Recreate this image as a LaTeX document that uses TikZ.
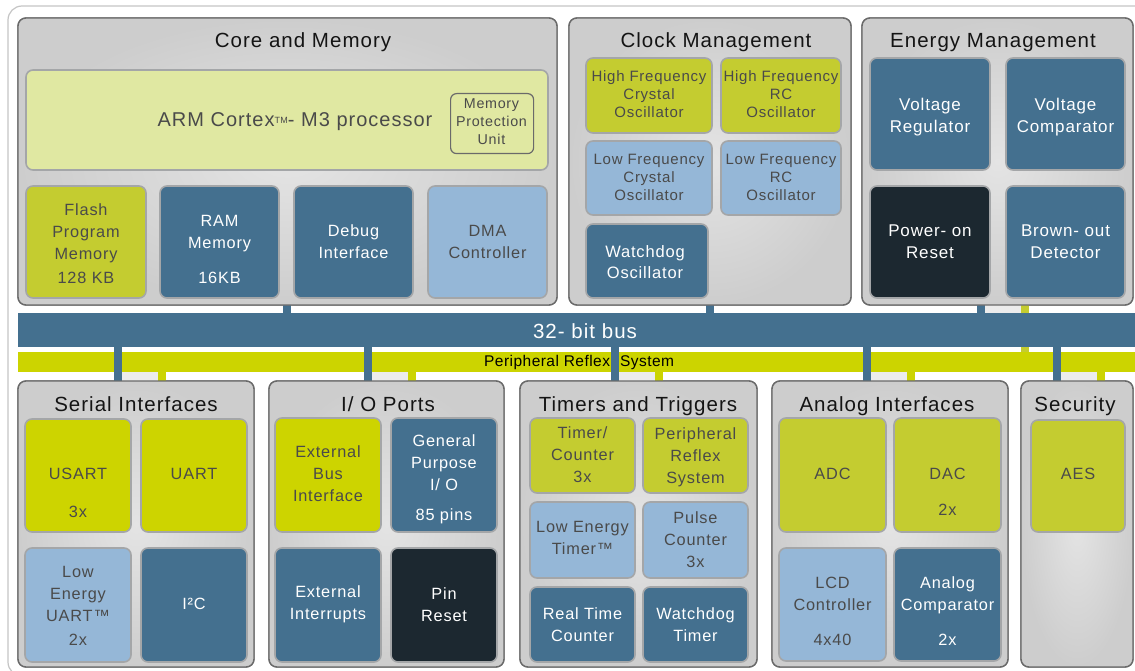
\documentclass[tikz,border=0pt]{standalone}
\usepackage{fontspec}
\setmainfont{Liberation Sans}[LetterSpace=5]
\newfontfamily\prsfont{Liberation Sans}[LetterSpace=3]
\definecolor{grpline}{HTML}{6A6A6A}
\definecolor{grpin}{HTML}{E4E4E4}
\definecolor{grpout}{HTML}{CDCDCD}
\definecolor{bxline}{HTML}{A4A6A8}
\definecolor{yelA}{HTML}{C4CC30}
\definecolor{yelB}{HTML}{CDD400}
\definecolor{dblue}{HTML}{44708F}
\definecolor{lblue}{HTML}{95B7D7}
\definecolor{darkbx}{HTML}{1C2830}
\definecolor{armfill}{HTML}{E0E8A2}
\definecolor{txtgray}{HTML}{4A4A4A}
\definecolor{ttlcol}{HTML}{141414}
\definecolor{framegray}{HTML}{C4C4C4}
\definecolor{stripgray}{HTML}{ECECEC}
\definecolor{prsyel}{HTML}{CCD400}
\newcommand\fTitle{\fontsize{20.5}{24}\selectfont}
\newcommand\fBox{\fontsize{16.3}{22}\selectfont}
\newcommand\fClk{\fontsize{15}{18}\selectfont}
\newcommand\fEn{\fontsize{17}{22}\selectfont}
\newcommand\bx[6]{\node[#2, anchor=north west, minimum width={(#5-#3)*1pt}, minimum height={(#6-#4)*1pt}] (#1) at (#3,#4) {};}
\begin{document}
\begin{tikzpicture}[x=1pt,y=-1pt,
  grp/.style={draw=grpline, line width=1.4pt, rounded corners=8pt, inner color=grpin, outer color=grpout, inner sep=0pt, outer sep=0pt},
  bxs/.style={draw=bxline, line width=1.6pt, rounded corners=7pt, inner sep=0pt, outer sep=0pt},
  ybA/.style={bxs, fill=yelA},
  ybB/.style={bxs, fill=yelB},
  dbb/.style={bxs, fill=dblue},
  lbb/.style={bxs, fill=lblue},
  dkb/.style={bxs, fill=darkbx},
  ttl/.style={font=\fTitle, text=ttlcol, inner sep=0pt, anchor=base},
  tl/.style={font=\fBox, text=txtgray, align=center, inner sep=0pt},
  tw/.style={font=\fBox, text=white, align=center, inner sep=0pt},
  bcon/.style={draw=dblue, line width=8pt},
  ycon/.style={draw=prsyel, line width=8pt},
  strip/.style={fill=stripgray, draw=none}
]
\useasboundingbox (0,0) rectangle (1135,671);
% outer frame
\draw[draw=framegray, line width=1.2pt, rounded corners=14pt] (8,6) rectangle (1160,676);

% bus and PRS bands
\node[fill=dblue, anchor=north west, minimum width=1130pt, minimum height=34pt, inner sep=0pt, outer sep=0pt] (bus) at (18,313) {};
\node[fill=prsyel, anchor=north west, minimum width=1130pt, minimum height=20pt, inner sep=0pt, outer sep=0pt] (prs) at (18,352) {};

% group boxes
\bx{core}{grp}{18}{18}{557}{305}
\bx{clock}{grp}{569}{18}{851}{305}
\bx{energy}{grp}{862}{18}{1133}{305}
\bx{serial}{grp}{18}{381}{254}{667}
\bx{io}{grp}{269}{381}{504}{667}
\bx{timers}{grp}{520}{381}{757}{667}
\bx{analog}{grp}{772}{381}{1008}{667}
\bx{security}{grp}{1021}{381}{1133}{667}

% connector x positions
\coordinate (kc) at (287,0);
\coordinate (kk) at (710,0);
\coordinate (ke) at (980.5,0);
\coordinate (key) at (1025,0);
\coordinate (s1) at (118,0);   \coordinate (s2) at (162,0);
\coordinate (i1) at (368,0);   \coordinate (i2) at (412,0);
\coordinate (t1) at (615,0);   \coordinate (t2) at (659,0);
\coordinate (a1) at (867,0);   \coordinate (a2) at (911,0);
\coordinate (e1) at (1057,0);  \coordinate (e2) at (1101,0);

% light strips between paired connectors
\fill[strip] (984,305) rectangle (1021,313);
\foreach \l/\r in {122/158, 372/408, 619/655, 871/907, 1061/1097}
  \fill[strip] (\l,372) rectangle (\r,381);

% top connectors
\draw[draw=yelA, line width=8pt] (key |- energy.south) -- (key |- prs.north);
\draw[bcon] (kc |- core.south) -- (kc |- bus.north);
\draw[bcon] (kk |- clock.south) -- (kk |- bus.north);
\draw[bcon] (ke |- energy.south) -- (ke |- bus.north);

% bus over the yellow one
\fill[dblue] (bus.north west) rectangle (bus.south east);
\node[font=\fontsize{20.5}{24}\selectfont, text=white, inner sep=0pt] (bustxt) at (585,331) {32- bit bus};

% bottom connectors
\draw[bcon] (s1 |- bus.south) -- (s1 |- serial.north);
\draw[ycon] (s2 |- prs.south) -- (s2 |- serial.north);
\draw[bcon] (i1 |- bus.south) -- (i1 |- io.north);
\draw[ycon] (i2 |- prs.south) -- (i2 |- io.north);
\draw[bcon] (t1 |- bus.south) -- (t1 |- timers.north);
\draw[ycon] (t2 |- prs.south) -- (t2 |- timers.north);
\draw[bcon] (a1 |- bus.south) -- (a1 |- analog.north);
\draw[ycon] (a2 |- prs.south) -- (a2 |- analog.north);
\draw[bcon] (e1 |- bus.south) -- (e1 |- security.north);
\draw[ycon] (e2 |- prs.south) -- (e2 |- security.north);

\node[font=\prsfont\fontsize{15.5}{20}\selectfont, text=black, inner sep=0pt, anchor=west] (prstxt) at (484,362) {Peripheral Reflex\hspace{10pt}System};

% redraw group boxes on top of connector ends
\foreach \g in {core,clock,energy,serial,io,timers,analog,security}
  \draw[grp] (\g.north west) rectangle (\g.south east);

% titles
\node[ttl] (tcore) at (303,48) {Core and Memory};
\node[ttl] (tclock) at (716,48) {Clock Management};
\node[ttl] (tenergy) at (993,48) {Energy Management};
\node[ttl] (tserial) at (136,411) {Serial Interfaces};
\node[ttl] (tio) at (388,411) {I/ O Ports};
\node[ttl] (ttimers) at (638,411) {Timers and Triggers};
\node[ttl] (tanalog) at (887,411) {Analog Interfaces};
\node[ttl] (tsec) at (1075,411) {Security};

% Core and Memory
\bx{arm}{bxs, fill=armfill}{26}{70}{548}{170}
\node[font=\fontsize{20}{24}\selectfont, text=txtgray, inner sep=0pt] (armt) at (295,122) {ARM Cortex\raisebox{0.35ex}{\fontsize{9}{9}\selectfont TM}- M3 processor};
\node[draw=grpline, line width=1.2pt, rounded corners=6pt, anchor=north west, minimum width=83pt, minimum height=60pt, inner sep=0pt] (mpu) at (450,93) {};
\node[font=\fontsize{14.3}{18}\selectfont, text=txtgray, align=center, inner sep=0pt] (mput) at (491.5,122) {Memory\\Protection\\Unit};
\bx{flash}{ybA}{26}{186}{146}{298}
\node[tl] (flasht) at (86,244) {Flash\\Program\\Memory\\[2pt]128 KB};
\bx{ram}{dbb}{160}{186}{279}{298}
\node[tw] (ramt) at (219.5,249.5) {RAM\\Memory\\[13pt]16KB};
\bx{debug}{dbb}{294}{186}{413}{298}
\node[tw] (debugt) at (353.5,242) {Debug\\Interface};
\bx{dma}{lbb}{428}{186}{547}{298}
\node[tl] (dmat) at (487.5,242) {DMA\\Controller};

% Clock Management
\bx{hfx}{ybA}{586}{58}{712}{133}
\node[tl, font=\fClk] (hfxt) at (649,94) {High Frequency\\Crystal\\Oscillator};
\bx{hfrc}{ybA}{721}{58}{841}{133}
\node[tl, font=\fClk] (hfrct) at (781,94) {High Frequency\\RC\\Oscillator};
\bx{lfx}{lbb}{586}{141}{712}{215}
\node[tl, font=\fClk] (lfxt) at (649,177) {Low Frequency\\Crystal\\Oscillator};
\bx{lfrc}{lbb}{721}{141}{841}{215}
\node[tl, font=\fClk] (lfrct) at (781,177) {Low Frequency\\RC\\Oscillator};
\bx{wdo}{dbb}{586}{224}{708}{298}
\node[tw, font=\fontsize{16.5}{21}\selectfont] (wdot) at (645,262.5) {Watchdog\\Oscillator};

% Energy Management
\bx{vreg}{dbb}{870}{58}{990}{170}
\node[tw, font=\fEn] (vregt) at (930,117) {Voltage\\Regulator};
\bx{vcmp}{dbb}{1006}{58}{1125}{170}
\node[tw, font=\fEn] (vcmpt) at (1065.5,117) {Voltage\\Comparator};
\bx{por}{dkb}{870}{186}{990}{298}
\node[tw, font=\fEn] (port) at (930,241.5) {Power- on\\Reset};
\bx{bod}{dbb}{1006}{186}{1125}{298}
\node[tw, font=\fEn] (bodt) at (1065.5,241.5) {Brown- out\\Detector};

% Serial Interfaces
\bx{usart}{ybB}{25}{419}{131}{532}
\node[tl] (usartt) at (78,493) {USART\\[16pt]3x};
\bx{uart}{ybB}{141}{419}{247}{532}
\node[tl] (uartt) at (194,474) {UART};
\bx{leuart}{lbb}{25}{548}{131}{662}
\node[tl] (leuartt) at (78,606) {Low\\Energy\\UART™\\[2pt]2x};
\bx{i2c}{dbb}{141}{548}{247}{662}
\node[tw] (i2ct) at (194,604) {I²C};

% I/O Ports
\bx{ebi}{ybB}{275}{418}{381}{532}
\node[tl] (ebit) at (328,474) {External\\Bus\\Interface};
\bx{gpio}{dbb}{391}{418}{497}{532}
\node[tw] (gpiot) at (444,479.5) {General\\Purpose\\I/ O\\[8pt]85 pins};
\bx{extint}{dbb}{275}{548}{381}{662}
\node[tw] (extintt) at (328,604.5) {External\\Interrupts};
\bx{pinrst}{dkb}{391}{548}{497}{662}
\node[tw] (pinrstt) at (444,604.5) {Pin\\Reset};

% Timers and Triggers
\bx{tc}{ybA}{530}{418}{635}{493}
\node[tl] (tct) at (582.5,454.5) {Timer/\\Counter\\3x};
\bx{prsb}{ybA}{643}{418}{748}{493}
\node[tl] (prsbt) at (695.5,457) {Peripheral\\Reflex\\System};
\bx{letim}{lbb}{530}{502}{635}{578}
\node[tl] (letimt) at (582.5,538) {Low Energy\\Timer™};
\bx{pcnt}{lbb}{643}{502}{748}{578}
\node[tl] (pcntt) at (695.5,539.5) {Pulse\\Counter\\3x};
\bx{rtc}{dbb}{530}{587}{635}{662}
\node[tw] (rtct) at (582.5,624.5) {Real Time\\Counter};
\bx{wdt}{dbb}{643}{587}{748}{662}
\node[tw] (wdtt) at (695.5,624.5) {Watchdog\\Timer};

% Analog Interfaces
\bx{adc}{ybA}{779}{418}{886}{532}
\node[tl] (adct) at (832.5,474) {ADC};
\bx{dac}{ybA}{894}{418}{1001}{532}
\node[tl] (dact) at (947.5,492) {DAC\\[14pt]2x};
\bx{lcd}{lbb}{779}{548}{886}{661}
\node[tl] (lcdt) at (832.5,611.5) {LCD\\Controller\\[13pt]4x40};
\bx{acmp}{dbb}{894}{548}{1001}{661}
\node[tw] (acmpt) at (947.5,611.5) {Analog\\Comparator\\[13pt]2x};

% Security
\bx{aes}{ybA}{1031}{420}{1125}{532}
\node[tl] (aest) at (1078,474) {AES};
\end{tikzpicture}
\end{document}
